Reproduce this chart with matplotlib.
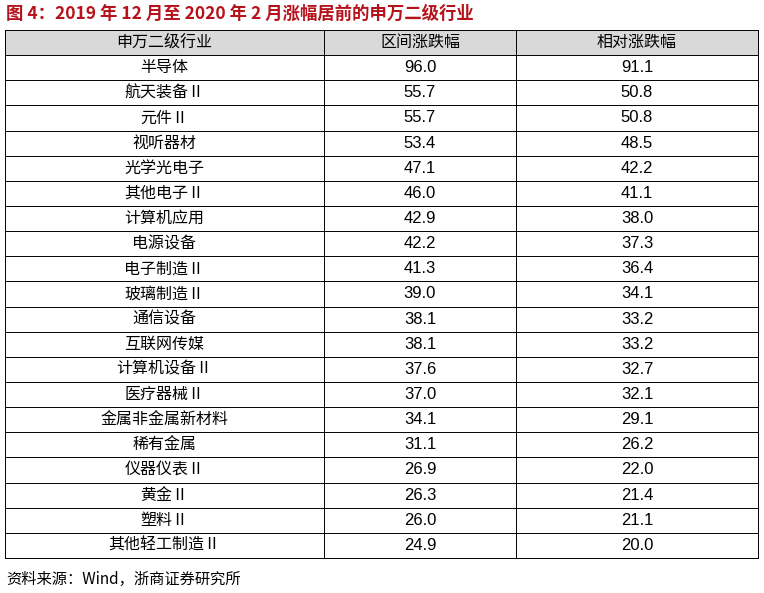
import matplotlib.pyplot as plt
from matplotlib.patches import Rectangle

plt.rcParams['font.family'] = ['Noto Sans CJK SC', 'DejaVu Sans']

headers = ["申万二级行业", "区间涨跌幅", "相对涨跌幅"]
industries = ["半导体", "航天装备Ⅱ", "元件Ⅱ", "视听器材", "光学光电子", "其他电子Ⅱ",
              "计算机应用", "电源设备", "电子制造Ⅱ", "玻璃制造Ⅱ", "通信设备", "互联网传媒",
              "计算机设备Ⅱ", "医疗器械Ⅱ", "金属非金属新材料", "稀有金属", "仪器仪表Ⅱ",
              "黄金Ⅱ", "塑料Ⅱ", "其他轻工制造Ⅱ"]
range_chg = [96.0, 55.7, 55.7, 53.4, 47.1, 46.0, 42.9, 42.2, 41.3, 39.0, 38.1, 38.1,
             37.6, 37.0, 34.1, 31.1, 26.9, 26.3, 26.0, 24.9]
rel_chg = [91.1, 50.8, 50.8, 48.5, 42.2, 41.1, 38.0, 37.3, 36.4, 34.1, 33.2, 33.2,
           32.7, 32.1, 29.1, 26.2, 22.0, 21.4, 21.1, 20.0]

W, H = 764, 593
fig = plt.figure(figsize=(W / 100, H / 100), dpi=100)
ax = fig.add_axes([0, 0, 1, 1])
ax.set_xlim(0, W)
ax.set_ylim(H, 0)
ax.axis('off')

ax.text(6, 14, "图 4：2019 年 12 月至 2020 年 2 月涨幅居前的申万二级行业", color='#b5121b',
        fontsize=12.5, fontweight='bold', va='center', ha='left')

cols = [5, 324, 516, 758]
top, bottom = 30, 558
n = len(industries) + 1
rh = (bottom - top) / n

ax.add_patch(Rectangle((cols[0], top), cols[-1] - cols[0], rh, facecolor='#d9d9d9', edgecolor='none'))

for i in range(n + 1):
    ax.plot([cols[0], cols[-1]], [top + i * rh] * 2, color='black', lw=0.7)
for c in cols:
    ax.plot([c, c], [top, bottom], color='black', lw=0.7)

def cell(r, c, s, fam=None, size=11.5):
    x = (cols[c] + cols[c + 1]) / 2
    y = top + (r + 0.5) * rh
    ax.text(x, y, s, ha='center', va='center', fontsize=size, color='black',
            family=fam if fam else ['Noto Sans CJK SC', 'DejaVu Sans'])

for c, h in enumerate(headers):
    cell(0, c, h)
for i, name in enumerate(industries):
    cell(i + 1, 0, name)
    cell(i + 1, 1, f"{range_chg[i]:.1f}", 'Liberation Sans', 12)
    cell(i + 1, 2, f"{rel_chg[i]:.1f}", 'Liberation Sans', 12)

ax.text(6, 579, "资料来源：Wind，浙商证券研究所", fontsize=11, va='center', ha='left')

fig.savefig("out.png", dpi=100)
